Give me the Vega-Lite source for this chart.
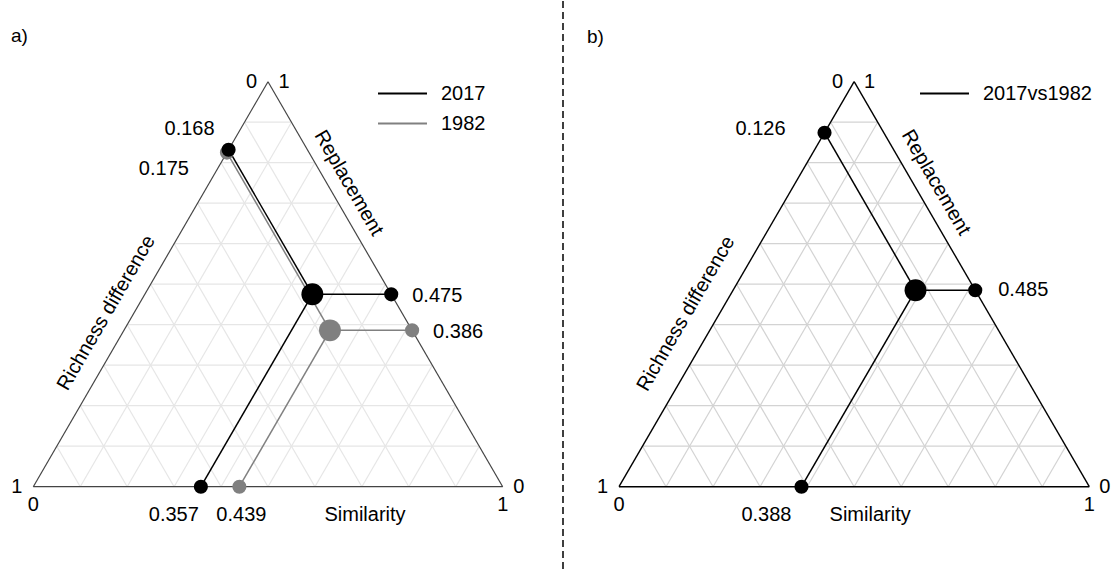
{
  "$schema": "https://vega.github.io/schema/vega-lite/v6.json",
  "background": "white",
  "padding": 0,
  "spacing": 0,
  "bounds": "flush",
  "config": {
    "view": {"stroke": null},
    "text": {"font": "Liberation Sans", "fontSize": 20, "color": "black"},
    "title": {"font": "Liberation Sans", "fontSize": 19, "fontWeight": "normal", "color": "black", "anchor": "start", "frame": "group", "baseline": "middle"},
    "legend": {"title": null, "orient": "none", "symbolType": "M-2,0H2", "symbolSize": 600, "symbolStrokeWidth": 2, "labelFont": "Liberation Sans", "labelFontSize": 20, "labelColor": "black", "rowPadding": 6, "padding": 0}
  },
  "datasets": {
    "grid": [
      {"dir": "h", "x": 0.05, "y": 0.1, "x2": 0.95, "y2": 0.1},
      {"dir": "h", "x": 0.1, "y": 0.2, "x2": 0.9, "y2": 0.2},
      {"dir": "h", "x": 0.15, "y": 0.3, "x2": 0.85, "y2": 0.3},
      {"dir": "h", "x": 0.2, "y": 0.4, "x2": 0.8, "y2": 0.4},
      {"dir": "h", "x": 0.25, "y": 0.5, "x2": 0.75, "y2": 0.5},
      {"dir": "h", "x": 0.3, "y": 0.6, "x2": 0.7, "y2": 0.6},
      {"dir": "h", "x": 0.35, "y": 0.7, "x2": 0.65, "y2": 0.7},
      {"dir": "h", "x": 0.4, "y": 0.8, "x2": 0.6, "y2": 0.8},
      {"dir": "h", "x": 0.45, "y": 0.9, "x2": 0.55, "y2": 0.9},
      {"dir": "s", "x": 0.1, "y": 0, "x2": 0.55, "y2": 0.9},
      {"dir": "s", "x": 0.2, "y": 0, "x2": 0.6, "y2": 0.8},
      {"dir": "s", "x": 0.3, "y": 0, "x2": 0.65, "y2": 0.7},
      {"dir": "s", "x": 0.4, "y": 0, "x2": 0.7, "y2": 0.6},
      {"dir": "s", "x": 0.5, "y": 0, "x2": 0.75, "y2": 0.5},
      {"dir": "s", "x": 0.6, "y": 0, "x2": 0.8, "y2": 0.4},
      {"dir": "s", "x": 0.7, "y": 0, "x2": 0.85, "y2": 0.3},
      {"dir": "s", "x": 0.8, "y": 0, "x2": 0.9, "y2": 0.2},
      {"dir": "s", "x": 0.9, "y": 0, "x2": 0.95, "y2": 0.1},
      {"dir": "r", "x": 0.1, "y": 0, "x2": 0.05, "y2": 0.1},
      {"dir": "r", "x": 0.2, "y": 0, "x2": 0.1, "y2": 0.2},
      {"dir": "r", "x": 0.3, "y": 0, "x2": 0.15, "y2": 0.3},
      {"dir": "r", "x": 0.4, "y": 0, "x2": 0.2, "y2": 0.4},
      {"dir": "r", "x": 0.5, "y": 0, "x2": 0.25, "y2": 0.5},
      {"dir": "r", "x": 0.6, "y": 0, "x2": 0.3, "y2": 0.6},
      {"dir": "r", "x": 0.7, "y": 0, "x2": 0.35, "y2": 0.7},
      {"dir": "r", "x": 0.8, "y": 0, "x2": 0.4, "y2": 0.8},
      {"dir": "r", "x": 0.9, "y": 0, "x2": 0.45, "y2": 0.9}
    ],
    "edges": [
      {"side": "Similarity", "x": 0, "y": 0, "x2": 1, "y2": 0},
      {"side": "Richness difference", "x": 0, "y": 0, "x2": 0.5, "y2": 1},
      {"side": "Replacement", "x": 0.5, "y": 1, "x2": 1, "y2": 0}
    ],
    "vertexLabels": [
      {"pos": "left", "x": 0.5, "y": 1, "text": "0"},
      {"pos": "right", "x": 0.5, "y": 1, "text": "1"},
      {"pos": "left", "x": 0, "y": 0, "text": "1"},
      {"pos": "below", "x": 0, "y": 0, "text": "0"},
      {"pos": "right", "x": 1, "y": 0, "text": "0"},
      {"pos": "below", "x": 1, "y": 0, "text": "1"}
    ],
    "axisTitles": [
      {"title": "Richness difference", "x": 0.25, "y": 0.5},
      {"title": "Replacement", "x": 0.75, "y": 0.5},
      {"title": "Similarity", "x": 0.5, "y": 0}
    ],
    "linesA": [
      {"series": "1982", "x": 0.632, "y": 0.386, "x2": 0.4125, "y2": 0.825},
      {"series": "1982", "x": 0.632, "y": 0.386, "x2": 0.807, "y2": 0.386},
      {"series": "1982", "x": 0.632, "y": 0.386, "x2": 0.439, "y2": 0},
      {"series": "2017", "x": 0.5945, "y": 0.475, "x2": 0.416, "y2": 0.832},
      {"series": "2017", "x": 0.5945, "y": 0.475, "x2": 0.7625, "y2": 0.475},
      {"series": "2017", "x": 0.5945, "y": 0.475, "x2": 0.357, "y2": 0}
    ],
    "pointsA": [
      {"series": "1982", "kind": "centre", "x": 0.632, "y": 0.386, "label": ""},
      {"series": "1982", "kind": "edge", "axis": "Richness difference", "x": 0.4125, "y": 0.825, "label": "0.175"},
      {"series": "1982", "kind": "edge", "axis": "Replacement", "x": 0.807, "y": 0.386, "label": "0.386"},
      {"series": "1982", "kind": "edge", "axis": "Similarity", "x": 0.439, "y": 0, "label": "0.439"},
      {"series": "2017", "kind": "centre", "x": 0.5945, "y": 0.475, "label": ""},
      {"series": "2017", "kind": "edge", "axis": "Richness difference", "x": 0.416, "y": 0.832, "label": "0.168"},
      {"series": "2017", "kind": "edge", "axis": "Replacement", "x": 0.7625, "y": 0.475, "label": "0.475"},
      {"series": "2017", "kind": "edge", "axis": "Similarity", "x": 0.357, "y": 0, "label": "0.357"}
    ],
    "linesB": [
      {"comparison": "2017vs1982", "x": 0.6305, "y": 0.485, "x2": 0.437, "y2": 0.874},
      {"comparison": "2017vs1982", "x": 0.6305, "y": 0.485, "x2": 0.7575, "y2": 0.485},
      {"comparison": "2017vs1982", "x": 0.6305, "y": 0.485, "x2": 0.388, "y2": 0}
    ],
    "pointsB": [
      {"comparison": "2017vs1982", "kind": "centre", "x": 0.6305, "y": 0.485, "label": ""},
      {"comparison": "2017vs1982", "kind": "edge", "axis": "Richness difference", "x": 0.437, "y": 0.874, "label": "0.126"},
      {"comparison": "2017vs1982", "kind": "edge", "axis": "Replacement", "x": 0.7575, "y": 0.485, "label": "0.485"},
      {"comparison": "2017vs1982", "kind": "edge", "axis": "Similarity", "x": 0.388, "y": 0, "label": "0.388"}
    ]
  },
  "hconcat": [
    {
      "width": 563,
      "height": 571,
      "title": {"text": "a)", "offset": -46, "dx": 11},
      "layer": [
        {
          "data": {"name": "grid"},
          "mark": {"type": "rule", "color": "#e6e6e6", "strokeWidth": 1.2},
          "encoding": {
            "x": {"field": "x", "type": "quantitative", "scale": {"domain": [-0.07094, 1.12846], "nice": false, "zero": false}, "axis": null},
            "y": {"field": "y", "type": "quantitative", "scale": {"domain": [-0.21062, 1.19926], "nice": false, "zero": false}, "axis": null},
            "x2": {"field": "x2"},
            "y2": {"field": "y2"}
          }
        },
        {
          "data": {"name": "edges"},
          "mark": {"type": "rule", "color": "#444444", "strokeWidth": 1.2},
          "encoding": {
            "x": {"field": "x", "type": "quantitative"},
            "y": {"field": "y", "type": "quantitative"},
            "x2": {"field": "x2"},
            "y2": {"field": "y2"}
          }
        },
        {
          "data": {"values": [{}]},
          "mark": {"type": "rule", "color": "black", "strokeWidth": 1.5, "strokeDash": [7, 4]},
          "encoding": {"x": {"datum": 1.12846, "type": "quantitative"}}
        },
        {
          "data": {"name": "linesA"},
          "mark": {"type": "rule", "strokeWidth": 1.5},
          "encoding": {
            "x": {"field": "x", "type": "quantitative"},
            "y": {"field": "y", "type": "quantitative"},
            "x2": {"field": "x2"},
            "y2": {"field": "y2"},
            "color": {"field": "series", "type": "nominal", "scale": {"domain": ["2017", "1982"], "range": ["#000000", "#808080"]}, "legend": {"legendX": 389, "legendY": 79, "labelOffset": 25}}
          }
        },
        {
          "data": {"name": "pointsA"},
          "mark": {"type": "circle", "opacity": 1},
          "encoding": {
            "x": {"field": "x", "type": "quantitative"},
            "y": {"field": "y", "type": "quantitative"},
            "color": {"field": "series", "type": "nominal", "legend": null},
            "size": {"field": "kind", "type": "ordinal", "scale": {"domain": ["centre", "edge"], "range": [480, 200]}, "legend": null}
          }
        },
        {
          "data": {"name": "pointsA"},
          "transform": [{"filter": "datum.label === '0.168'"}],
          "mark": {"type": "text", "align": "right", "baseline": "middle", "dx": -14, "dy": -21},
          "encoding": {"x": {"field": "x", "type": "quantitative"}, "y": {"field": "y", "type": "quantitative"}, "text": {"field": "label"}}
        },
        {
          "data": {"name": "pointsA"},
          "transform": [{"filter": "datum.label === '0.175'"}],
          "mark": {"type": "text", "align": "right", "baseline": "middle", "dx": -38, "dy": 16},
          "encoding": {"x": {"field": "x", "type": "quantitative"}, "y": {"field": "y", "type": "quantitative"}, "text": {"field": "label"}}
        },
        {
          "data": {"name": "pointsA"},
          "transform": [{"filter": "datum.axis === 'Replacement'"}],
          "mark": {"type": "text", "align": "left", "baseline": "middle", "dx": 21, "dy": 2},
          "encoding": {"x": {"field": "x", "type": "quantitative"}, "y": {"field": "y", "type": "quantitative"}, "text": {"field": "label"}}
        },
        {
          "data": {"name": "pointsA"},
          "transform": [{"filter": "datum.label === '0.357'"}],
          "mark": {"type": "text", "align": "right", "baseline": "middle", "dx": -2, "dy": 28},
          "encoding": {"x": {"field": "x", "type": "quantitative"}, "y": {"field": "y", "type": "quantitative"}, "text": {"field": "label"}}
        },
        {
          "data": {"name": "pointsA"},
          "transform": [{"filter": "datum.label === '0.439'"}],
          "mark": {"type": "text", "align": "center", "baseline": "middle", "dx": 2, "dy": 28},
          "encoding": {"x": {"field": "x", "type": "quantitative"}, "y": {"field": "y", "type": "quantitative"}, "text": {"field": "label"}}
        },
        {
          "data": {"name": "vertexLabels"},
          "transform": [{"filter": "datum.pos === 'left'"}],
          "mark": {"type": "text", "align": "center", "baseline": "middle", "dx": -16.5},
          "encoding": {"x": {"field": "x", "type": "quantitative"}, "y": {"field": "y", "type": "quantitative"}, "text": {"field": "text"}}
        },
        {
          "data": {"name": "vertexLabels"},
          "transform": [{"filter": "datum.pos === 'right'"}],
          "mark": {"type": "text", "align": "center", "baseline": "middle", "dx": 16},
          "encoding": {"x": {"field": "x", "type": "quantitative"}, "y": {"field": "y", "type": "quantitative"}, "text": {"field": "text"}}
        },
        {
          "data": {"name": "vertexLabels"},
          "transform": [{"filter": "datum.pos === 'below'"}],
          "mark": {"type": "text", "align": "center", "baseline": "middle", "dy": 18},
          "encoding": {"x": {"field": "x", "type": "quantitative"}, "y": {"field": "y", "type": "quantitative"}, "text": {"field": "text"}}
        },
        {
          "data": {"name": "axisTitles"},
          "transform": [{"filter": "datum.title === 'Richness difference'"}],
          "mark": {"type": "text", "align": "center", "baseline": "middle", "angle": -59.9, "dx": -47, "dy": -24},
          "encoding": {"x": {"field": "x", "type": "quantitative"}, "y": {"field": "y", "type": "quantitative"}, "text": {"field": "title"}}
        },
        {
          "data": {"name": "axisTitles"},
          "transform": [{"filter": "datum.title === 'Replacement'"}],
          "mark": {"type": "text", "align": "center", "baseline": "middle", "angle": 59.9, "dx": -106, "dy": -19},
          "encoding": {"x": {"field": "x", "type": "quantitative"}, "y": {"field": "y", "type": "quantitative"}, "text": {"field": "title"}}
        },
        {
          "data": {"name": "axisTitles"},
          "transform": [{"filter": "datum.title === 'Similarity'"}],
          "mark": {"type": "text", "align": "center", "baseline": "middle", "dx": 97, "dy": 28},
          "encoding": {"x": {"field": "x", "type": "quantitative"}, "y": {"field": "y", "type": "quantitative"}, "text": {"field": "title"}}
        }
      ]
    },
    {
      "width": 549,
      "height": 571,
      "title": {"text": "b)", "offset": -46, "dx": 24},
      "layer": [
        {
          "data": {"name": "grid"},
          "mark": {"type": "rule", "color": "#d3d3d3", "strokeWidth": 1.2},
          "encoding": {
            "x": {"field": "x", "type": "quantitative", "scale": {"domain": [-0.11907, 1.04827], "nice": false, "zero": false}, "axis": null},
            "y": {"field": "y", "type": "quantitative", "scale": {"domain": [-0.21062, 1.19926], "nice": false, "zero": false}, "axis": null},
            "x2": {"field": "x2"},
            "y2": {"field": "y2"}
          }
        },
        {
          "data": {"name": "edges"},
          "mark": {"type": "rule", "color": "#000000", "strokeWidth": 1.4},
          "encoding": {
            "x": {"field": "x", "type": "quantitative"},
            "y": {"field": "y", "type": "quantitative"},
            "x2": {"field": "x2"},
            "y2": {"field": "y2"}
          }
        },
        {
          "data": {"name": "linesB"},
          "mark": {"type": "rule", "strokeWidth": 1.5},
          "encoding": {
            "x": {"field": "x", "type": "quantitative"},
            "y": {"field": "y", "type": "quantitative"},
            "x2": {"field": "x2"},
            "y2": {"field": "y2"},
            "color": {"field": "comparison", "type": "nominal", "scale": {"domain": ["2017vs1982"], "range": ["#000000"]}, "legend": {"legendX": 368, "legendY": 79, "labelOffset": 25}}
          }
        },
        {
          "data": {"name": "pointsB"},
          "mark": {"type": "circle", "opacity": 1},
          "encoding": {
            "x": {"field": "x", "type": "quantitative"},
            "y": {"field": "y", "type": "quantitative"},
            "color": {"field": "comparison", "type": "nominal", "legend": null},
            "size": {"field": "kind", "type": "ordinal", "scale": {"domain": ["centre", "edge"], "range": [480, 200]}, "legend": null}
          }
        },
        {
          "data": {"name": "pointsB"},
          "transform": [{"filter": "datum.axis === 'Richness difference'"}],
          "mark": {"type": "text", "align": "right", "baseline": "middle", "dx": -39, "dy": -4},
          "encoding": {"x": {"field": "x", "type": "quantitative"}, "y": {"field": "y", "type": "quantitative"}, "text": {"field": "label"}}
        },
        {
          "data": {"name": "pointsB"},
          "transform": [{"filter": "datum.axis === 'Replacement'"}],
          "mark": {"type": "text", "align": "left", "baseline": "middle", "dx": 23, "dy": 0},
          "encoding": {"x": {"field": "x", "type": "quantitative"}, "y": {"field": "y", "type": "quantitative"}, "text": {"field": "label"}}
        },
        {
          "data": {"name": "pointsB"},
          "transform": [{"filter": "datum.axis === 'Similarity'"}],
          "mark": {"type": "text", "align": "right", "baseline": "middle", "dx": -10, "dy": 28},
          "encoding": {"x": {"field": "x", "type": "quantitative"}, "y": {"field": "y", "type": "quantitative"}, "text": {"field": "label"}}
        },
        {
          "data": {"name": "vertexLabels"},
          "transform": [{"filter": "datum.pos === 'left'"}],
          "mark": {"type": "text", "align": "center", "baseline": "middle", "dx": -16.5},
          "encoding": {"x": {"field": "x", "type": "quantitative"}, "y": {"field": "y", "type": "quantitative"}, "text": {"field": "text"}}
        },
        {
          "data": {"name": "vertexLabels"},
          "transform": [{"filter": "datum.pos === 'right'"}],
          "mark": {"type": "text", "align": "center", "baseline": "middle", "dx": 15.5},
          "encoding": {"x": {"field": "x", "type": "quantitative"}, "y": {"field": "y", "type": "quantitative"}, "text": {"field": "text"}}
        },
        {
          "data": {"name": "vertexLabels"},
          "transform": [{"filter": "datum.pos === 'below'"}],
          "mark": {"type": "text", "align": "center", "baseline": "middle", "dy": 18},
          "encoding": {"x": {"field": "x", "type": "quantitative"}, "y": {"field": "y", "type": "quantitative"}, "text": {"field": "text"}}
        },
        {
          "data": {"name": "axisTitles"},
          "transform": [{"filter": "datum.title === 'Richness difference'"}],
          "mark": {"type": "text", "align": "center", "baseline": "middle", "angle": -59.9, "dx": -51, "dy": -29},
          "encoding": {"x": {"field": "x", "type": "quantitative"}, "y": {"field": "y", "type": "quantitative"}, "text": {"field": "title"}}
        },
        {
          "data": {"name": "axisTitles"},
          "transform": [{"filter": "datum.title === 'Replacement'"}],
          "mark": {"type": "text", "align": "center", "baseline": "middle", "angle": 59.9, "dx": -106, "dy": -20},
          "encoding": {"x": {"field": "x", "type": "quantitative"}, "y": {"field": "y", "type": "quantitative"}, "text": {"field": "title"}}
        },
        {
          "data": {"name": "axisTitles"},
          "transform": [{"filter": "datum.title === 'Similarity'"}],
          "mark": {"type": "text", "align": "center", "baseline": "middle", "dx": 16, "dy": 28},
          "encoding": {"x": {"field": "x", "type": "quantitative"}, "y": {"field": "y", "type": "quantitative"}, "text": {"field": "title"}}
        }
      ]
    }
  ],
  "resolve": {
    "scale": {"x": "independent", "y": "independent", "color": "independent", "size": "independent"},
    "legend": {"color": "independent", "size": "independent"}
  }
}
